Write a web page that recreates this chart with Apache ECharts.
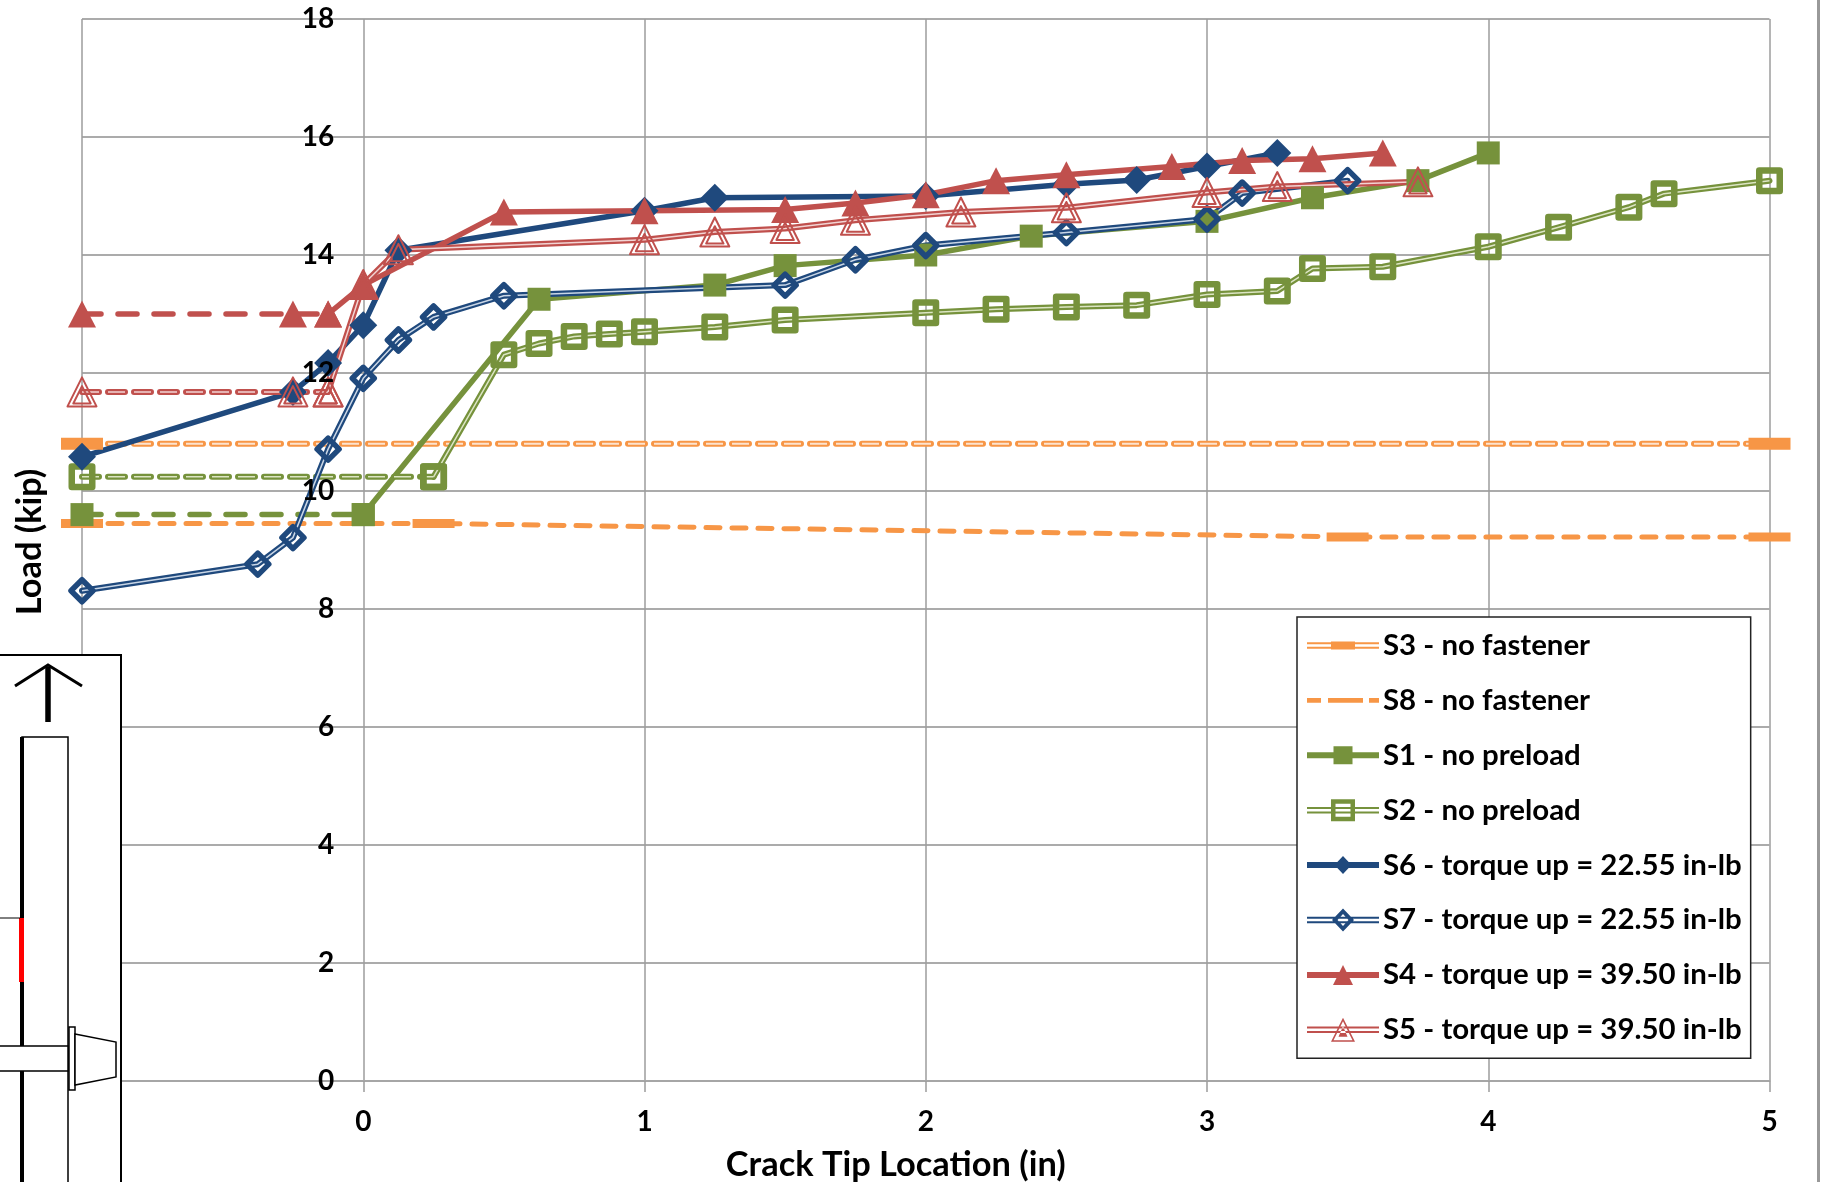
<!DOCTYPE html>
<html><head><meta charset="utf-8">
<style>html,body{margin:0;padding:0;background:#fff}#c{width:1822px;height:1182px}</style>
<script src="https://cdn.jsdelivr.net/npm/echarts@6/dist/echarts.min.js"></script>
</head><body><div id="c"></div>
<script>
const xTicksMin=-1, xTicksMax=5, yTicksMin=0, yTicksMax=18;
const names={S3:'S3 - no fastener',S8:'S8 - no fastener',S1:'S1 - no preload',S2:'S2 - no preload',S6:'S6 - torque up = 22.55 in-lb',S7:'S7 - torque up = 22.55 in-lb',S4:'S4 - torque up = 39.50 in-lb',S5:'S5 - torque up = 39.50 in-lb'};
const s3X=[-1,5];
const s3Y=[10.8,10.8];
const s8X=[-1,0.25,3.5,5];
const s8Y=[9.45,9.45,9.22,9.22];
const s1X=[-1,0,0.625,1.25,1.5,2,2.375,3,3.375,3.75,4];
const s1Y=[9.6,9.6,13.25,13.49,13.82,14.0,14.32,14.57,14.97,15.26,15.73];
const s2X=[-1,0.25,0.5,0.625,0.75,0.875,1,1.25,1.5,2,2.25,2.5,2.75,3,3.25,3.375,3.625,4,4.25,4.5,4.625,5];
const s2Y=[10.24,10.24,12.31,12.5,12.62,12.66,12.7,12.78,12.9,13.02,13.08,13.12,13.15,13.33,13.39,13.77,13.8,14.14,14.47,14.81,15.04,15.26];
const s6X=[-1,-0.25,-0.125,0,0.125,1,1.25,2,2.5,2.75,3,3.25];
const s6Y=[10.58,11.68,12.17,12.81,14.08,14.75,14.97,15.0,15.2,15.27,15.5,15.73];
const s7X=[-1,-0.375,-0.25,-0.125,0,0.125,0.25,0.5,1.5,1.75,2,2.5,3,3.125,3.5];
const s7Y=[8.31,8.76,9.21,10.71,11.91,12.56,12.95,13.31,13.49,13.92,14.16,14.38,14.61,15.05,15.26];
const s4X=[-1,-0.25,-0.125,0,0.5,1,1.5,1.75,2,2.25,2.5,2.875,3.125,3.375,3.625];
const s4Y=[13.0,13.0,13.0,13.49,14.73,14.75,14.77,14.88,15.02,15.26,15.36,15.5,15.6,15.63,15.73];
const s5X=[-1,-0.25,-0.125,0,0.125,1,1.25,1.5,1.75,2.125,2.5,3,3.25,3.75];
const s5Y=[11.68,11.68,11.68,13.5,14.09,14.26,14.39,14.45,14.59,14.73,14.8,15.06,15.16,15.24];

const FONT='Lato';
const ORANGE='#F79646',GREEN='#76923C',NAVY='#1F497D',RED='#C0504D';
const tri='path://M50 0L100 100L0 100Z M50 30L80 90L20 90Z';

function pts(x,y){return x.map((v,i)=>[v,y[i]]);}
function build(key,x,y,o){
  const out=[],all=pts(x,y);
  const base={type:'line',clip:false,animation:false,silent:true,
    symbol:o.symbol,symbolSize:o.size,
    itemStyle:o.hollow?{color:'transparent',borderColor:o.color,borderWidth:o.bw,borderJoin:'round'}:{color:o.color,borderWidth:0},
    emphasis:{disabled:true}};
  const line=(type)=>({color:o.color,width:o.width,type:type,cap:'round',join:'round'});
  const inner=(type)=>({color:o.light,width:o.innerW||1.5,type:type,cap:'butt',join:'round'});
  const dashN=o.dashN||0;
  const whole=dashN>=all.length;
  if(dashN>0) out.push(Object.assign({},base,{name:whole?names[key]:names[key]+' (before crack)',data:all.slice(0,dashN),lineStyle:line(o.dash)}));
  if(!whole) out.push(Object.assign({},base,{name:names[key],data:all.slice(Math.max(dashN-1,0)),lineStyle:line('solid')}));
  if(o.light){
    const il={type:'line',clip:false,animation:false,silent:true,symbol:'none',emphasis:{disabled:true}};
    if(dashN>0) out.push(Object.assign({},il,{name:names[key]+' inner dashed',data:all.slice(0,dashN),lineStyle:inner(o.dash)}));
    if(!whole) out.push(Object.assign({},il,{name:names[key]+' inner',data:all.slice(Math.max(dashN-1,0)),lineStyle:inner('solid')}));
  }
  return out;
}
const series=[].concat(
  build('S3',s3X,s3Y,{color:ORANGE,light:'#FDE3CF',width:6,innerW:2,symbol:'rect',size:[42,12],dashN:2,dash:[17,9]}),
  build('S8',s8X,s8Y,{color:ORANGE,width:5,symbol:'rect',size:[42,9],dashN:4,dash:[14,12]}),
  build('S1',s1X,s1Y,{color:GREEN,width:5.5,symbol:'rect',size:23,dashN:2,dash:[19,17]}),
  build('S2',s2X,s2Y,{color:GREEN,light:'#DCE5C4',width:6,symbol:'rect',size:20.5,hollow:true,bw:6.5,dashN:2,dash:[17,9]}),
  build('S6',s6X,s6Y,{color:NAVY,width:5.5,symbol:'diamond',size:28}),
  build('S7',s7X,s7Y,{color:NAVY,light:'#C9D6E6',width:6,symbol:'diamond',size:22,hollow:true,bw:5.5}),
  build('S4',s4X,s4Y,{color:RED,width:5.5,symbol:'triangle',size:[28,27],dashN:3,dash:[19,17]}),
  build('S5',s5X,s5Y,{color:RED,light:'#F2D4D3',width:6,symbol:tri,size:[29,29],hollow:true,bw:2,dashN:3,dash:[17,9]})
);

// legend icons in a 72x24 box
const FR='M0 0H0.01V0.01H0Z M72 24H71.99V23.99H72Z ';
const R=(a,b,c,d)=>`M${a} ${b}H${c}V${d}H${a}Z `;
const Rr=(a,b,c,d)=>`M${a} ${b}V${d}H${c}V${b}Z `;
const solid=R(0,9,72,15);
const dbl=R(0,8.7,72,10.7)+R(0,13.3,72,15.3);
const icons={
 S3:R(0,8.7,24,10.7)+R(0,13.3,24,15.3)+R(48,8.7,72,10.7)+R(48,13.3,72,15.3)+R(24,8,48,16),
 S8:R(0,9.6,14,14.4)+R(21,9.6,56,14.4)+R(62,9.6,72,14.4),
 S1:solid+R(26.5,3,45.5,21),
 S2:dbl+R(24,1,48,23)+Rr(28.5,5.5,43.5,18.5),
 S6:solid+'M36 3L44.5 12L36 21L27.5 12Z ',
 S7:dbl+'M36 0.5L47 12L36 23.5L25 12Z M36 6L30.5 12L36 18L41.5 12Z ',
 S4:solid+'M36 2L46 22H26Z ',
 S5:dbl+'M36 0L48 24H24Z M36 3.5L26.5 22.5H45.5Z M36 8.5L31.5 19H40.5Z '
};
const legendColors={S3:ORANGE,S8:ORANGE,S1:GREEN,S2:GREEN,S6:NAVY,S7:NAVY,S4:RED,S5:RED};
const order=['S3','S8','S1','S2','S6','S7','S4','S5'];

const K='#000';
const chart=echarts.init(document.getElementById('c'),null,{renderer:'canvas'});
chart.setOption({
  animation:false,
  backgroundColor:'#fff',
  grid:{left:82,right:52.5,top:19,bottom:101,containLabel:false,outerBoundsMode:'none'},
  xAxis:{type:'value',min:xTicksMin,max:xTicksMax,interval:1,
    name:'Crack Tip Location (in)',nameLocation:'middle',nameGap:67,
    nameTextStyle:{fontFamily:FONT,fontWeight:700,fontSize:34.4,color:K,padding:[0,60,0,0]},
    axisLine:{show:true,lineStyle:{color:'#a6a6a6',width:2}},
    axisTick:{show:true,length:11,lineStyle:{color:'#9c9c9c',width:1.5}},
    axisLabel:{showMinLabel:false,margin:27,fontFamily:FONT,fontWeight:700,fontSize:28,color:K},
    splitLine:{show:true,lineStyle:{color:'#9c9c9c',width:1.5}}},
  yAxis:[
   {type:'value',min:yTicksMin,max:yTicksMax,interval:2,axisLine:{show:false,onZero:false},axisTick:{show:false},axisLabel:{show:false},
    splitLine:{show:true,lineStyle:{color:'#ababab',width:2}}},
   {type:'value',min:yTicksMin,max:yTicksMax,interval:2,z:20,position:'left',offset:-281.25,
    axisLine:{show:false,onZero:false},axisTick:{show:false},splitLine:{show:false},
    name:'Load (kip)',nameLocation:'middle',nameGap:316,nameRotate:90,
    nameTextStyle:{fontFamily:FONT,fontWeight:700,fontSize:34.4,color:K,padding:[0,0,0,16]},
    axisLabel:{margin:29,fontFamily:FONT,fontWeight:700,fontSize:28,color:K}}
  ],
  legend:{show:true,orient:'vertical',left:1297,top:617,
    padding:[14,9,14,10],itemWidth:72,itemHeight:24,itemGap:25.9,itemStyle:{borderWidth:0},symbolKeepAspect:false,
    backgroundColor:'#fff',borderColor:'#222',borderWidth:1.5,selectedMode:false,z:10,
    textStyle:{fontFamily:FONT,fontWeight:700,fontSize:29.4,color:K,padding:[0,0,0,-1]},
    data:order.map(k=>({name:names[k],icon:'path://'+FR+icons[k],
      itemStyle:{color:legendColors[k],borderWidth:0,opacity:1}}))},
  series:series,
  graphic:{elements:[
    {type:'line',z:50,shape:{x1:1818.5,y1:0,x2:1818.5,y2:1182},style:{stroke:'#999999',lineWidth:3}},
    {type:'rect',z:100,shape:{x:-3,y:655,width:124,height:540},style:{fill:'#fff',stroke:'#000',lineWidth:2}},
    {type:'line',z:101,shape:{x1:48,y1:667,x2:48,y2:722},style:{stroke:'#000',lineWidth:5.5}},
    {type:'polyline',z:101,shape:{points:[[15,686],[48,665],[82,686]]},style:{stroke:'#000',lineWidth:3,fill:null}},
    {type:'rect',z:101,shape:{x:22,y:737,width:46,height:460},style:{fill:'#fff',stroke:'#000',lineWidth:1.5}},
    {type:'line',z:102,shape:{x1:22,y1:737,x2:22,y2:1182},style:{stroke:'#000',lineWidth:4}},
    {type:'line',z:103,shape:{x1:21.5,y1:918,x2:21.5,y2:982},style:{stroke:'#ff0000',lineWidth:5}},
    {type:'line',z:103,shape:{x1:0,y1:918,x2:20,y2:918},style:{stroke:'#000',lineWidth:1}},
    {type:'rect',z:104,shape:{x:-3,y:1046,width:71,height:25},style:{fill:'#fff',stroke:'#000',lineWidth:1.5}},
    {type:'rect',z:104,shape:{x:69,y:1027,width:6,height:63},style:{fill:'#fff',stroke:'#000',lineWidth:1.5}},
    {type:'polygon',z:104,shape:{points:[[75,1034],[116,1042],[116,1077],[75,1085]]},style:{fill:'#fff',stroke:'#000',lineWidth:1.5}}
  ]}
});
</script></body></html>
